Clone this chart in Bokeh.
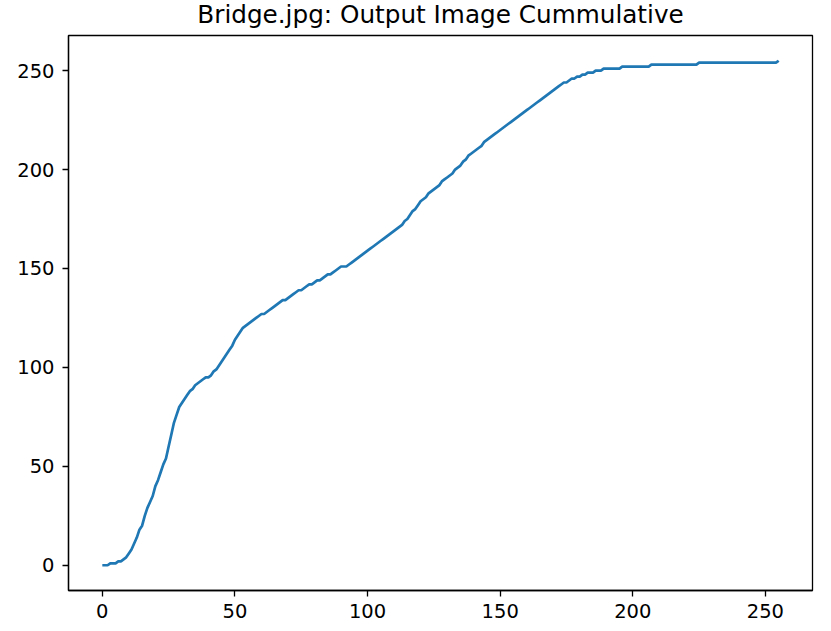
from bokeh.plotting import figure
from bokeh.models import Range1d, FixedTicker, ColumnDataSource, Label
from bokeh.embed import file_html
from bokeh.resources import INLINE

title_text = "Bridge.jpg: Output Image Cummulative"
x_ticks = [0, 50, 100, 150, 200, 250]
y_ticks = [0, 50, 100, 150, 200, 250]

levels = list(range(256))
cumulative = [
    0, 0, 0, 1, 1, 1, 2, 2, 3, 4,                # 0-9
    6, 8, 11, 14, 18, 20, 25, 29, 32, 35,        # 10-19
    40, 43, 47, 51, 54, 60, 66, 72, 76, 80,      # 20-29
    82, 84, 86, 88, 89, 91, 92, 93, 94, 95,      # 30-39
    95, 96, 98, 99, 101, 103, 105, 107, 109, 111,  # 40-49
    114, 116, 118, 120, 121, 122, 123, 124, 125, 126,  # 50-59
    127, 127, 128, 129, 130, 131, 132, 133, 134, 134,  # 60-69
    135, 136, 137, 138, 139, 139, 140, 141, 142, 142,  # 70-79
    143, 144, 144, 145, 146, 147, 147, 148, 149, 150,  # 80-89
    151, 151, 151, 152, 153, 154, 155, 156, 157, 158,  # 90-99
    159, 160, 161, 162, 163, 164, 165, 166, 167, 168,  # 100-109
    169, 170, 171, 172, 174, 175, 177, 179, 180, 182,  # 110-119
    184, 185, 186, 188, 189, 190, 191, 192, 194, 195,  # 120-129
    196, 197, 198, 200, 201, 202, 204, 205, 207, 208,  # 130-139
    209, 210, 211, 212, 214, 215, 216, 217, 218, 219,  # 140-149
    220, 221, 222, 223, 224, 225, 226, 227, 228, 229,  # 150-159
    230, 231, 232, 233, 234, 235, 236, 237, 238, 239,  # 160-169
    240, 241, 242, 243, 244, 244, 245, 246, 246, 247,  # 170-179
    247, 248, 248, 249, 249, 249, 250, 250, 250, 251,  # 180-189
    251, 251, 251, 251, 251, 251, 252, 252, 252, 252,  # 190-199
    252, 252, 252, 252, 252, 252, 252, 253, 253, 253,  # 200-209
    253, 253, 253, 253, 253, 253, 253, 253, 253, 253,  # 210-219
    253, 253, 253, 253, 253, 254, 254, 254, 254, 254,  # 220-229
    254, 254, 254, 254, 254, 254, 254, 254, 254, 254,  # 230-239
    254, 254, 254, 254, 254, 254, 254, 254, 254, 254,  # 240-249
    254, 254, 254, 254, 254, 255,                     # 250-255
]

source = ColumnDataSource(data=dict(x=levels, y=cumulative))

FRAME_W, FRAME_H = 744, 555

p = figure(
    frame_width=FRAME_W, frame_height=FRAME_H,
    output_backend="svg", toolbar_location=None,
    x_range=Range1d(-12.75, 267.75), y_range=Range1d(-12.75, 267.75),
    min_border_left=68, min_border_right=10,
    min_border_top=35, min_border_bottom=34,
)

p.line("x", "y", source=source, line_color="#1f77b4", line_width=2.7)

title = Label(
    x=FRAME_W / 2, y=21.5, x_units="screen", y_units="screen",
    text=title_text, text_align="center", text_baseline="alphabetic",
    text_font="DejaVu Sans", text_font_size="24.7px", text_color="black",
)
p.add_layout(title, "above")

p.xgrid.visible = False
p.ygrid.visible = False
p.outline_line_color = "black"
p.outline_line_width = 1.3
p.background_fill_color = "white"
p.border_fill_color = "white"

for ax, ticks in ((p.xaxis[0], x_ticks), (p.yaxis[0], y_ticks)):
    ax.ticker = FixedTicker(ticks=ticks)
    ax.minor_tick_line_color = None
    ax.major_tick_in = 0
    ax.major_tick_out = 6
    ax.major_tick_line_width = 1.3
    ax.major_tick_line_color = "black"
    ax.axis_line_color = "black"
    ax.axis_line_width = 1.3
    ax.major_label_text_font = "DejaVu Sans"
    ax.major_label_text_font_size = "19.5px"
    ax.major_label_text_color = "black"

p.xaxis[0].major_label_standoff = 7
p.yaxis[0].major_label_standoff = 8

open("out.html", "w").write(file_html(p, INLINE))
